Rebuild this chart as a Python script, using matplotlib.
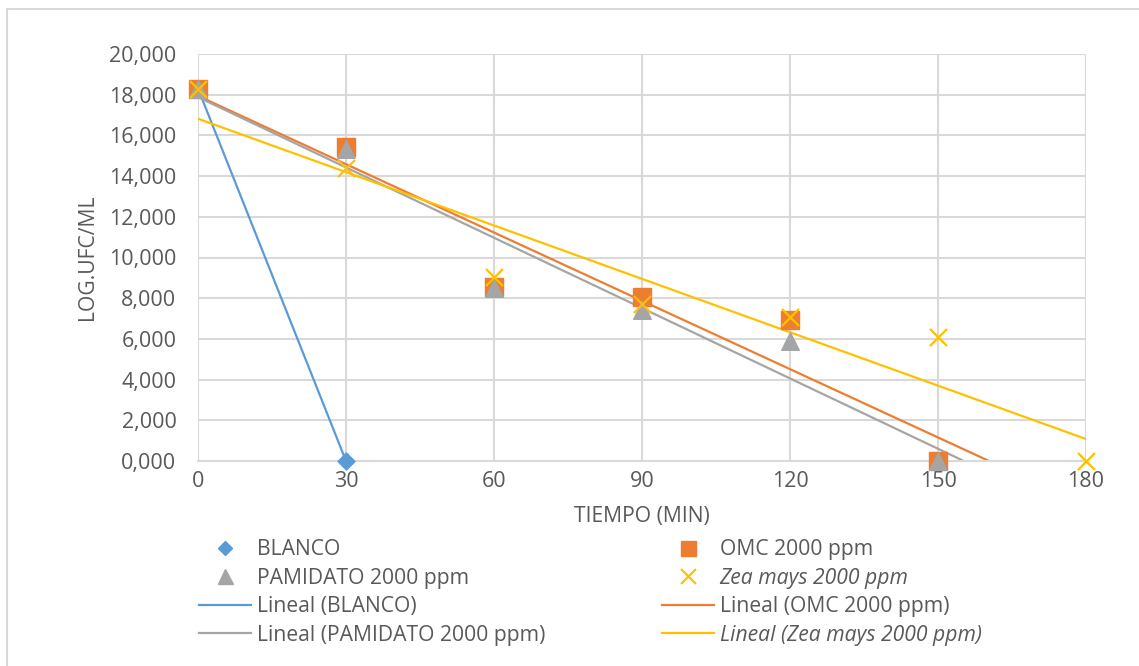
import matplotlib.pyplot as plt
from matplotlib.lines import Line2D
from matplotlib.patches import Rectangle
from matplotlib.ticker import FuncFormatter, MultipleLocator

plt.rcParams['font.family'] = ['Open Sans', 'DejaVu Sans']

# ---- data ----
t_blanco = [0, 30]
y_blanco = [18.30, 0.0]

t_omc = [0, 30, 60, 90, 120, 150]
y_omc = [18.30, 15.45, 8.55, 8.05, 6.95, 0.0]

t_pam = [0, 30, 60, 90, 120, 150]
y_pam = [18.30, 15.35, 8.50, 7.40, 5.90, 0.0]

t_zea = [0, 30, 60, 90, 120, 150, 180]
y_zea = [18.30, 14.40, 9.05, 7.70, 7.10, 6.10, 0.0]

C_BLUE = '#5b9bd5'
C_ORANGE = '#ed7d31'
C_GRAY = '#a5a5a5'
C_GOLD = '#ffc000'
TXT = '#595959'
GRID = '#d9d9d9'
FS = 15.2


def linfit(x, y):
    n = len(x)
    mx = sum(x) / n
    my = sum(y) / n
    sxy = sum((a - mx) * (b - my) for a, b in zip(x, y))
    sxx = sum((a - mx) ** 2 for a in x)
    m = sxy / sxx
    return m, my - m * mx


fig = plt.figure(figsize=(11.39, 6.66), dpi=100)
ax = fig.add_axes([198 / 1139, 1 - 461 / 666, 888 / 1139, 407 / 666])

# trendlines (drawn over the full x range, clipped by the axes)
xs = [0, 180]
for x, y, c in [(t_blanco, y_blanco, C_BLUE), (t_omc, y_omc, C_ORANGE),
                (t_pam, y_pam, C_GRAY), (t_zea, y_zea, C_GOLD)]:
    m, b = linfit(x, y)
    ax.plot(xs, [m * v + b for v in xs], color=c, lw=1.6, zorder=2)

ax.scatter(t_blanco, y_blanco, marker='D', s=75, color=C_BLUE, zorder=3, clip_on=False)
ax.scatter(t_omc, y_omc, marker='s', s=170, color=C_ORANGE, zorder=4, clip_on=False)
ax.scatter(t_pam, y_pam, marker='^', s=160, color=C_GRAY, zorder=5, clip_on=False)
ax.scatter(t_zea, y_zea, marker='x', s=150, color=C_GOLD, linewidths=1.6, zorder=6, clip_on=False)

ax.set_xlim(0, 180)
ax.set_ylim(0, 20)
ax.xaxis.set_major_locator(MultipleLocator(30))
ax.yaxis.set_major_locator(MultipleLocator(2))
ax.yaxis.set_major_formatter(FuncFormatter(lambda v, p: f'{v:.3f}'.replace('.', ',')))
ax.grid(True, color=GRID, lw=1.5, zorder=0)
ax.set_axisbelow(True)
for s in ['top', 'right', 'left']:
    ax.spines[s].set_visible(False)
ax.spines['bottom'].set_color(GRID)
ax.spines['bottom'].set_linewidth(1.5)
ax.tick_params(length=0, labelsize=15.5, colors=TXT)
ax.tick_params(axis='y', pad=15.5)
ax.tick_params(axis='x', pad=7)
ax.set_xlabel('TIEMPO (MIN)', fontsize=FS, color=TXT, labelpad=10)
ax.set_ylabel('LOG.UFC/ML', fontsize=FS, color=TXT, labelpad=8)

# legend: Excel order, two columns (drawn as two legends)
col1 = [
    Line2D([], [], ls='none', marker='D', ms=7.2, color=C_BLUE),
    Line2D([], [], ls='none', marker='^', ms=10.8, color=C_GRAY),
    Line2D([], [], color=C_BLUE, lw=1.6),
    Line2D([], [], color=C_GRAY, lw=1.6),
]
lab1 = ['BLANCO', 'PAMIDATO 2000 ppm', 'Lineal (BLANCO)', 'Lineal (PAMIDATO 2000 ppm)']
col2 = [
    Line2D([], [], ls='none', marker='s', ms=10.8, color=C_ORANGE),
    Line2D([], [], ls='none', marker='x', ms=10.8, mew=1.6, color=C_GOLD),
    Line2D([], [], color=C_ORANGE, lw=1.6),
    Line2D([], [], color=C_GOLD, lw=1.6),
]
lab2 = ['OMC 2000 ppm', 'Zea mays 2000 ppm', 'Lineal (OMC 2000 ppm)', 'Lineal (Zea mays 2000 ppm)']

for hs, ls, x0 in [(col1, lab1, 199), (col2, lab2, 662)]:
    leg = fig.legend(hs, ls, loc='upper left', bbox_to_anchor=(x0 / 1139, 1 - 539 / 666),
                     frameon=False, fontsize=FS, handlelength=2.45, handletextpad=0.28,
                     labelspacing=0.36, borderpad=0, borderaxespad=0, labelcolor=TXT)
    for txt in leg.get_texts():
        if 'Zea' in txt.get_text():
            txt.set_fontstyle('italic')

# outer chart border
fig.patches.append(Rectangle((7 / 1139, -0.05), 1.2, 1 - 9 / 666 + 0.05,
                             transform=fig.transFigure, fill=False, ec=GRID, lw=1.5))

fig.savefig('out.png', dpi=100)
